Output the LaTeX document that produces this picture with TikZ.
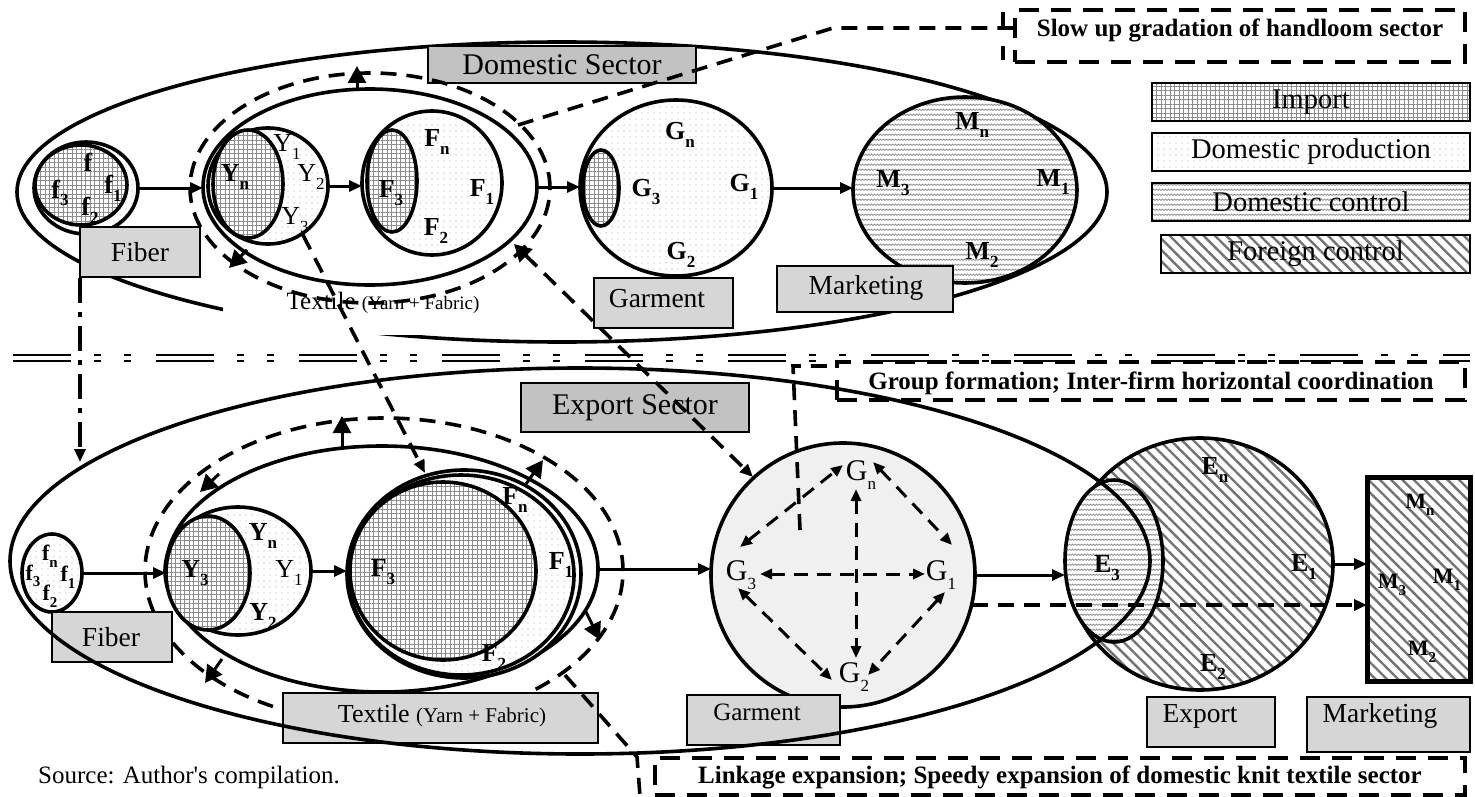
\documentclass[tikz,border=0pt]{standalone}
\usepackage{fontspec}
\setmainfont{Liberation Serif}
\newfontfamily\srcfont{Liberation Serif}
\usetikzlibrary{shapes.geometric,arrows.meta,patterns,patterns.meta}
\pgfdeclarepatternformonly{wavy}{\pgfqpoint{-1pt}{-1pt}}{\pgfqpoint{7pt}{6pt}}{\pgfqpoint{6pt}{5pt}}{%
  \pgfsetlinewidth{0.6pt}%
  \pgfpathmoveto{\pgfqpoint{0pt}{1.5pt}}%
  \pgfpathlineto{\pgfqpoint{1.5pt}{3pt}}%
  \pgfpathlineto{\pgfqpoint{3pt}{1.5pt}}%
  \pgfpathlineto{\pgfqpoint{4.5pt}{3pt}}%
  \pgfpathlineto{\pgfqpoint{6pt}{1.5pt}}%
  \pgfusepath{stroke}}
\newcommand\lb[2]{#1\raisebox{-0.3em}{\fontsize{17}{17}\selectfont #2}}
\newcommand\lbs[2]{#1\raisebox{-0.3em}{\fontsize{15}{15}\selectfont #2}}
\tikzset{
 ell/.style={ellipse,draw,line width=3.6pt,inner sep=0pt,outer sep=0pt},
 imp/.style={preaction={fill=white},pattern={Hatch[distance=4.5pt,line width=0.9pt]},pattern color=black!45},
 dprod/.style={preaction={fill=white},pattern={Dots[distance=6pt,radius=0.6pt]},pattern color=black!35},
 dctl/.style={preaction={fill=white},pattern=wavy,pattern color=black!55},
 fctl/.style={preaction={fill=white},pattern={Lines[angle=-45,distance=8pt,line width=2.4pt]},pattern color=black!55},
 tagbox/.style={draw,line width=1.6pt,fill=black!16,inner sep=0pt,outer sep=0pt},
 tagtext/.style={inner sep=0pt,font=\fontsize{27.5}{30}\selectfont},
 sectorbox/.style={draw,line width=1.6pt,fill=black!24,inner sep=0pt,outer sep=0pt,font=\fontsize{30}{32}\selectfont},
 legbox/.style={draw,line width=2pt,inner sep=0pt,outer sep=0pt,minimum width=318pt,minimum height=38pt,font=\fontsize{28.5}{30}\selectfont},
 notebox/.style={draw,line width=3.5pt,dash pattern=on 20pt off 12pt,inner sep=0pt,outer sep=0pt},
 notetext/.style={font=\fontsize{25}{28}\selectfont\bfseries,inner sep=0pt},
 dsh/.style={line width=3.6pt,dash pattern=on 16pt off 10pt},
 arr/.style={line width=3pt,-{Triangle[length=13pt,width=11pt]}},
 tri/.style={line width=3pt,-{Triangle[length=17pt,width=18pt]}},
 garr/.style={line width=3pt,dash pattern=on 14pt off 9pt,{Triangle[length=12pt,width=10pt]}-{Triangle[length=12pt,width=10pt]}},
 lab/.style={font=\fontsize{26}{26}\selectfont\bfseries,inner sep=0pt},
 labr/.style={font=\fontsize{26}{26}\selectfont,inner sep=0pt},
 labs/.style={font=\fontsize{22}{22}\selectfont\bfseries,inner sep=0pt},
 labg/.style={font=\fontsize{30}{30}\selectfont,inner sep=0pt},
}
\begin{document}
\begin{tikzpicture}[x=1pt,y=-1pt]
\useasboundingbox (0,0) rectangle (1475,797);
% ================= TOP: domestic sector =================
\node[ell,minimum width=1090pt,minimum height=300pt] (outT) at (562,192) {};
\node[fill=white,inner sep=0pt,minimum width=318pt,minimum height=52pt] (txbgT) at (382,309) {};
\node[ell,dprod,minimum width=104pt,minimum height=92pt] (fibT) at (86,188) {};
\node[ell,imp,minimum width=92pt,minimum height=80pt] (fib3T) at (81,185) {};
\node[ell,minimum width=334pt,minimum height=196pt] (txT) at (370,187) {};
\node[ell,dprod,minimum width=120pt,minimum height=116pt] (yT) at (268,186) {};
\node[ell,imp,minimum width=70pt,minimum height=108pt] (ynT) at (248,184) {};
\node[ell,dprod,minimum width=140pt,minimum height=144pt] (fT) at (432,183) {};
\node[ell,imp,minimum width=50pt,minimum height=102pt] (f3T) at (392,181) {};
\node[ell,dprod,minimum width=192pt,minimum height=176pt] (gT) at (676,188) {};
\node[ell,imp,minimum width=36pt,minimum height=76pt] (g3T) at (601,188) {};
\node[ell,dctl,minimum width=224pt,minimum height=186pt] (mT) at (965,190) {};
% boxes
\node[tagbox,minimum width=120pt,minimum height=50pt] (fibboxT) at (140,252) {};
\node[tagtext] (fibtxtT) at (140,252) {Fiber};
\node[sectorbox,minimum width=268pt,minimum height=37pt] (secT) at (562,64.5) {Domestic Sector};
\node[tagbox,minimum width=139pt,minimum height=50pt] (garT) at (663.5,303) {};
\node[tagtext] (gartxtT) at (657,299) {Garment};
\node[tagbox,minimum width=176pt,minimum height=46pt] (mktT) at (865,289) {};
\node[tagtext] (mkttxtT) at (866,288) {Marketing};
\node[inner sep=0pt] (txlabT) at (383,303) {\fontsize{25}{28}\selectfont Textile \fontsize{19}{20}\selectfont(Yarn + Fabric)};
% dashed textile ellipse
\node[ell,dsh,minimum width=360pt,minimum height=230pt] (dshT) at (370,188) {};
% legend
\node[legbox,imp] (lgI) at (1311,102) {Import};
\node[legbox,dprod] (lgD) at (1311,152) {Domestic production};
\node[legbox,dctl] (lgC) at (1311,202) {Domestic control};
\node[legbox,fctl,minimum width=309pt] (lgF) at (1315.5,254) {Foreign control};
% slow box
\node[notebox,minimum width=450pt,minimum height=52pt] (slowB) at (1240,36) {};
\node[notetext] (slowT) at (1240,30) {Slow up gradation of handloom sector};
\coordinate (slA) at (518,125);
\coordinate (slB) at (833,28);
\coordinate (slC) at (1015,28);
\coordinate (slD) at (1003,12);
\coordinate (slE) at (1003,62);
\draw[dsh] (slA) -- (slB) -- (slC);
\draw[line width=3.5pt,dash pattern=on 14pt off 20pt] (slD) -- (slE);
% arrows top
\draw[arr] (fibT.east) -- (fibT.east -| txT.west);
\draw[arr] (yT.east) -- (yT.east -| fT.west);
\draw[arr] (txT.east) -- (txT.east -| gT.west);
\draw[arr] (gT.east) -- (gT.east -| mT.west);
\coordinate (tA1) at (357,90); \coordinate (tA2) at (357,66);
\draw[tri] (tA1) -- (tA2);
\coordinate (tB1) at (247,250); \coordinate (tB2) at (229,268);
\draw[tri] (tB1) -- (tB2);
% labels top
\node[lab] (lfn) at (88,162) {f};
\node[lab] (lf3) at (60,193) {\lb{f}{3}};
\node[lab] (lf1) at (113,188) {\lb{f}{1}};
\node[lab] (lf2) at (90,210) {\lb{f}{2}};
\node[labr] (ly1) at (287,147) {\lb{Y}{1}};
\node[lab] (lyn) at (235,177) {\lb{Y}{n}};
\node[labr] (ly2) at (311,177) {\lb{Y}{2}};
\node[labr] (ly3) at (295,220) {\lb{Y}{3}};
\node[lab] (lFn) at (437,142) {\lb{F}{n}};
\node[lab] (lF3) at (391,193) {\lb{F}{3}};
\node[lab] (lF1) at (482,192) {\lb{F}{1}};
\node[lab] (lF2) at (436,231) {\lb{F}{2}};
\node[lab] (lGn) at (680,135) {\lb{G}{n}};
\node[lab] (lG3) at (646,192) {\lb{G}{3}};
\node[lab] (lG1) at (744,187) {\lb{G}{1}};
\node[lab] (lG2) at (681,255) {\lb{G}{2}};
\node[lab] (lMn) at (972,125) {\lb{M}{n}};
\node[lab] (lM3) at (893,183) {\lb{M}{3}};
\node[lab] (lM1) at (1053,182) {\lb{M}{1}};
\node[lab] (lM2) at (982,255) {\lb{M}{2}};
% ================= separator =================
\coordinate (sepA) at (13,355); \coordinate (sepB) at (1470,355);
\coordinate (sepC) at (13,361); \coordinate (sepD) at (1470,361);
\draw[line width=2pt,dash pattern=on 58pt off 23pt on 7pt off 23pt on 7pt off 25pt] (sepA) -- (sepB);
\draw[line width=2pt,dash pattern=on 58pt off 23pt on 7pt off 23pt on 7pt off 25pt] (sepC) -- (sepD);
% ================= BOTTOM: export sector =================
\node[ell,dprod,minimum width=60pt,minimum height=78pt] (fibB) at (52,573) {};
\node[ell,minimum width=432pt,minimum height=246pt] (txB) at (382,569) {};
\node[ell,dprod,minimum width=146pt,minimum height=128pt] (yB) at (238,571) {};
\node[ell,imp,minimum width=84pt,minimum height=114pt] (y3B) at (208,573) {};
\node[ell,dprod,minimum width=234pt,minimum height=208pt] (fB) at (464,574) {};
\node[ell,minimum width=226pt,minimum height=200pt] (fmB) at (461,575) {};
\node[ell,imp,minimum width=186pt,minimum height=178pt] (f3B) at (443,571) {};
\node[ell,dsh,minimum width=478pt,minimum height=306pt] (dshB) at (384,571) {};
\node[ell,fill=black!6,minimum width=264pt,minimum height=264pt] (gB) at (843,575) {};
\node[ell,fctl,minimum width=266pt,minimum height=252pt] (eB) at (1200,564) {};
\node[ell,dctl,minimum width=98pt,minimum height=162pt] (e3B) at (1114,561) {};
\node[draw,line width=5pt,fctl,inner sep=0pt,outer sep=0pt,minimum width=103pt,minimum height=204pt] (mB) at (1418.5,579) {};
% boxes bottom
\node[tagbox,minimum width=120pt,minimum height=50pt] (fibboxB) at (112,637) {};
\node[tagtext] (fibtxtB) at (111,637) {Fiber};
\node[tagbox,minimum width=315pt,minimum height=50pt] (txboxB) at (440.5,718) {};
\node[inner sep=0pt] (txlabB) at (442,716) {\fontsize{26}{28}\selectfont Textile \fontsize{21}{22}\selectfont(Yarn + Fabric)};
\node[tagbox,minimum width=153pt,minimum height=50pt] (garB) at (763.5,720) {};
\node[tagtext,font=\fontsize{25}{28}\selectfont] (gartxtB) at (757,712) {Garment};
\node[tagbox,minimum width=128pt,minimum height=50pt] (expB) at (1211,722) {};
\node[tagtext] (exptxtB) at (1200,716) {Export};
\node[tagbox,minimum width=163pt,minimum height=55pt] (mktB) at (1388.5,724.5) {};
\node[tagtext] (mkttxtB) at (1380,716) {Marketing};
\node[sectorbox,minimum width=228pt,minimum height=49pt] (secB) at (635,407.5) {Export Sector};
\node[notebox,minimum width=628pt,minimum height=38pt] (grpB) at (1151,381) {};
\node[notetext] (grpT) at (1151,383) {Group formation; Inter-firm horizontal coordination};
\node[notebox,minimum width=810pt,minimum height=37pt] (lnkBox) at (1060,776.5) {};
\node[notetext] (lnkT) at (1060,777) {Linkage expansion; Speedy expansion of domestic knit textile sector};
\node[anchor=west,inner sep=0pt,font=\srcfont\fontsize{25}{28}\selectfont] (src) at (38,777) {Source: Author's compilation.};
% arrows bottom
\draw[arr] (fibB.east) -- (fibB.east -| txB.west);
\draw[arr] (yB.east) -- (yB.east -| fB.west);
\draw[arr] (txB.east) -- (txB.east -| gB.west);
\draw[arr] (gB.east) -- (gB.east -| e3B.west);
\draw[arr] (eB.east) -- (eB.east -| mB.west);
\coordinate (bA1) at (342,449); \coordinate (bA2) at (342,416);
\draw[tri] (bA1) -- (bA2);
\coordinate (bB1) at (219,474); \coordinate (bB2) at (200,492);
\draw[tri] (bB1) -- (bB2);
\coordinate (bC1) at (526,484); \coordinate (bC2) at (543,460);
\draw[tri] (bC1) -- (bC2);
\coordinate (bD1) at (222,659); \coordinate (bD2) at (205,683);
\draw[tri] (bD1) -- (bD2);
\coordinate (bE1) at (586,612); \coordinate (bE2) at (600,640);
\draw[tri] (bE1) -- (bE2);
% G internal arrows
\coordinate (g3p) at (760,574); \coordinate (g1p) at (925,574);
\coordinate (gnp) at (856,489); \coordinate (g2p) at (856,658);
\coordinate (g3n) at (740,547); \coordinate (gn3) at (843,465);
\coordinate (gn1) at (873,462); \coordinate (g1n) at (952,545);
\coordinate (g12) at (945,592); \coordinate (g21) at (868,675);
\coordinate (g32) at (738,588); \coordinate (g23) at (832,680);
\draw[garr] (g3p) -- (g1p);
\draw[garr] (gnp) -- (g2p);
\draw[garr] (g3n) -- (gn3);
\draw[garr] (gn1) -- (g1n);
\draw[garr] (g12) -- (g21);
\draw[garr] (g32) -- (g23);
% dashed connectors
\coordinate (lkA) at (514,244); \coordinate (lkB) at (753,477);
\draw[dsh,{Triangle[length=17pt,width=18pt]}-{Triangle[length=13pt,width=11pt]}] (lkA) -- (lkB);
\coordinate (ysA) at (303,235); \coordinate (ysB) at (425,473);
\draw[dsh,-{Triangle[length=13pt,width=11pt]}] (ysA) -- (ysB);
\coordinate (gmA) at (972,605); \coordinate (gmB) at (1367,605);
\draw[dsh,-{Triangle[length=13pt,width=11pt]}] (gmA) -- (gmB);
\coordinate (grA) at (800,530); \coordinate (grB) at (793,366); \coordinate (grC) at (837,366);
\draw[dsh] (grA) -- (grB) -- (grC);
\coordinate (lnA) at (565,675); \coordinate (lnB) at (637,757); \coordinate (lnC) at (640,796);
\draw[dsh] (lnA) -- (lnB) -- (lnC);
\coordinate (ddA) at (80,278); \coordinate (ddB) at (80,462);
\draw[line width=4pt,dash pattern=on 25pt off 9pt on 5pt off 9pt,-{Triangle[length=13pt,width=11pt]}] (ddA) -- (ddB);
% labels bottom
\node[labs] (bfn) at (50,556) {\lbs{f}{n}};
\node[labs] (bf3) at (33,576) {\lbs{f}{3}};
\node[labs] (bf1) at (68,577) {\lbs{f}{1}};
\node[labs] (bf2) at (50,596) {\lbs{f}{2}};
\node[lab] (byn) at (263,536) {\lb{Y}{n}};
\node[lab] (by3) at (195,573) {\lb{Y}{3}};
\node[labr] (by1) at (289,573) {\lb{Y}{1}};
\node[lab] (by2) at (263,616) {\lb{Y}{2}};
\node[lab] (bFn) at (515,500) {\lb{F}{n}};
\node[lab] (bF3) at (383,572) {\lb{F}{3}};
\node[lab] (bF1) at (561,565) {\lb{F}{1}};
\node[lab] (bF2) at (494,657) {\lb{F}{2}};
\node[labg] (bGn) at (861,475) {\lb{G}{n}};
\node[labg] (bG3) at (741,575) {\lb{G}{3}};
\node[labg] (bG1) at (941,575) {\lb{G}{1}};
\node[labg] (bG2) at (854,677) {\lb{G}{2}};
\node[lab] (bEn) at (1215,470) {\lb{E}{n}};
\node[lab] (bE3) at (1107,568) {\lb{E}{3}};
\node[lab] (bE1) at (1304,567) {\lb{E}{1}};
\node[lab] (bE2) at (1213,667) {\lb{E}{2}};
\node[labs] (bMn) at (1420,505) {\lbs{M}{n}};
\node[labs] (bM3) at (1392,585) {\lbs{M}{3}};
\node[labs] (bM1) at (1447,580) {\lbs{M}{1}};
\node[labs] (bM2) at (1422,652) {\lbs{M}{2}};
% outer ellipse of export sector on top
\node[ell,minimum width=1140pt,minimum height=386pt] (outB) at (580,561) {};
\end{tikzpicture}
\end{document}
